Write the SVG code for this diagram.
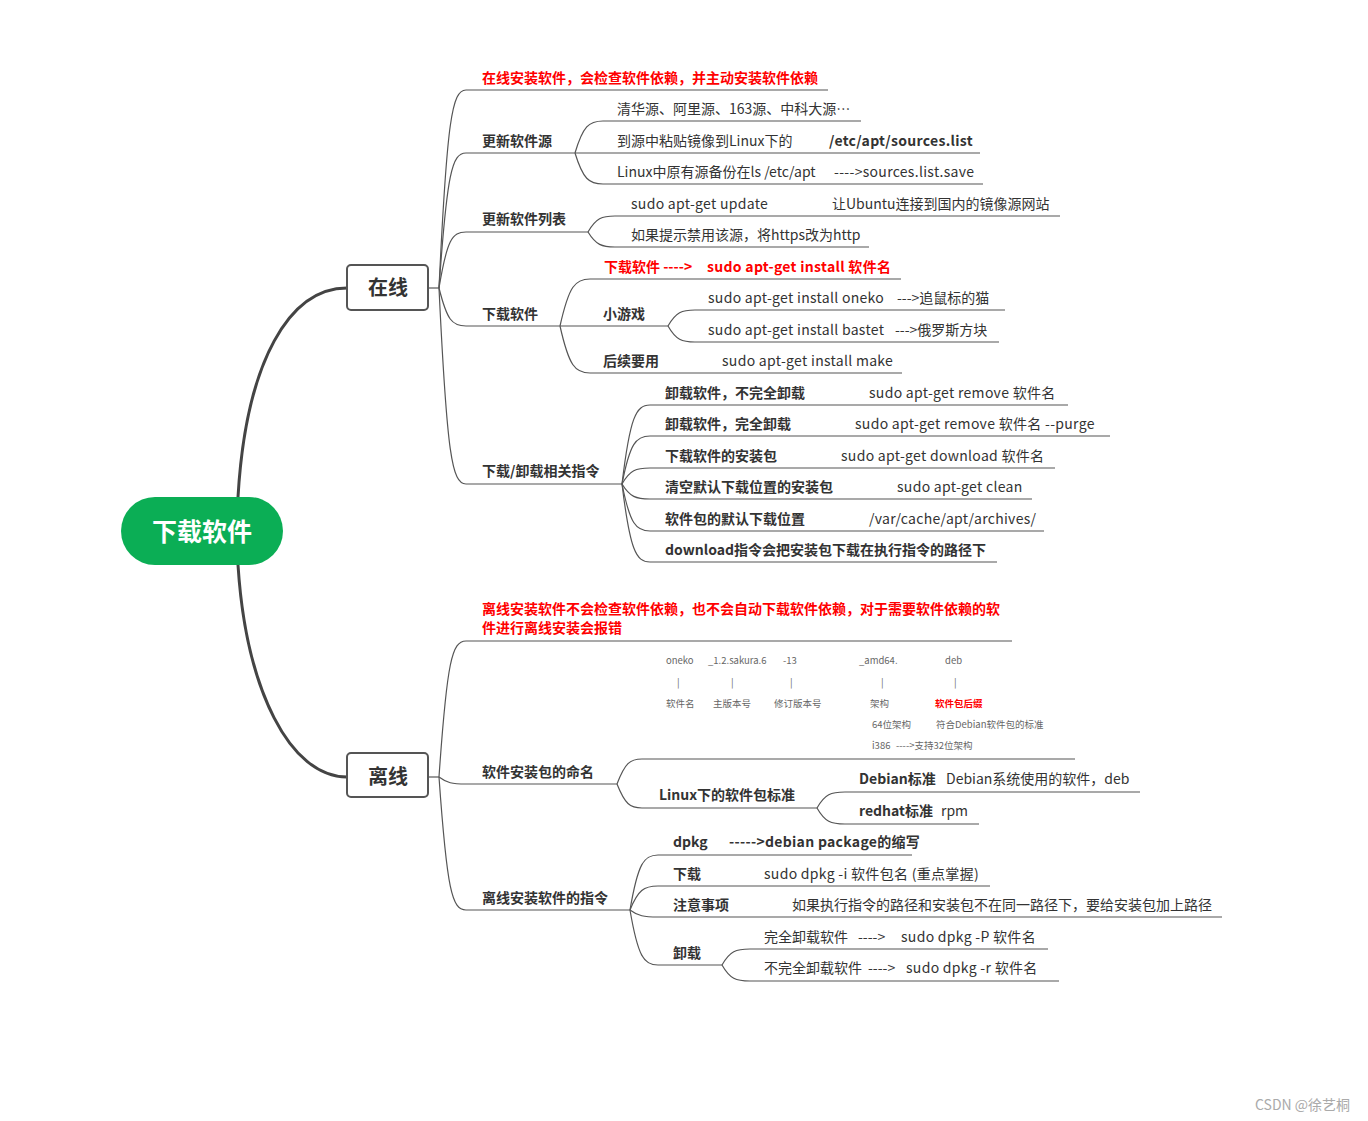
<svg xmlns="http://www.w3.org/2000/svg" width="1368" height="1121" viewBox="0 0 1368 1121">
<style>
text{font-family:"Noto Sans CJK SC","Noto Sans",sans-serif;font-size:14px;fill:#333}
.b{font-weight:700}
.r{fill:#f00;font-weight:700}
.l{letter-spacing:0.3px}
.s{font-size:9.5px;fill:#666}
.sr{font-size:9.5px;fill:#f00;font-weight:700}
.ln{fill:none;stroke:#555;stroke-width:1.2}
.main{fill:none;stroke:#444;stroke-width:3}
.box{fill:#fff;stroke:#555;stroke-width:2}
.wm{fill:#aaa;font-size:14px}
</style>
<rect width="1368" height="1121" fill="#fff"/>
<g id="connectors">
<path class="main" d="M238,497 C246,360 290,288 347,288"/>
<path class="main" d="M238,565 C246,690 290,777 347,777"/>
<path class="ln" d="M428,288 H439"/>
<path class="ln" d="M428,777 H439"/>
<path class="ln" d="M439,288 C447,120 452,90 466,90 H828"/>
<path class="ln" d="M439,288 C447,173 452,153 466,153 H575"/>
<path class="ln" d="M439,288 C447,240 452,232 466,232 H588"/>
<path class="ln" d="M439,288 C447,320 452,326 466,326 H560"/>
<path class="ln" d="M439,288 C447,455 452,484 466,484 H622"/>
<path class="ln" d="M575,153 C583,126 589,121 603,121 H861"/>
<path class="ln" d="M575,153 H980"/>
<path class="ln" d="M575,153 C583,179 589,184 603,184 H983"/>
<path class="ln" d="M588,232 C596,218 602,216 615,216 H1060"/>
<path class="ln" d="M588,232 C596,245 602,247 615,247 H869"/>
<path class="ln" d="M560,326 C569,286 575,279 590,279 H901"/>
<path class="ln" d="M560,326 H668"/>
<path class="ln" d="M560,326 C569,366 575,373 590,373 H902"/>
<path class="ln" d="M668,326 C676,312 682,310 695,310 H1005"/>
<path class="ln" d="M668,326 C676,340 682,342 695,342 H999"/>
<path class="ln" d="M622,484 C630,417 636,405 650,405 H1068"/>
<path class="ln" d="M622,484 C630,443 636,436 650,436 H1110"/>
<path class="ln" d="M622,484 C630,470 636,468 650,468 H1055"/>
<path class="ln" d="M622,484 C630,497 636,499 650,499 H1032"/>
<path class="ln" d="M622,484 C630,524 636,531 650,531 H1044"/>
<path class="ln" d="M622,484 C630,550 636,562 650,562 H997"/>
<path class="ln" d="M439,777 C447,661 452,641 466,641 H1012"/>
<path class="ln" d="M439,777 C447,783 452,784 466,784 H617"/>
<path class="ln" d="M439,777 C447,890 452,910 466,910 H630"/>
<path class="ln" d="M617,784 C625,763 630,759 642,759 H1075"/>
<path class="ln" d="M617,784 C625,804 630,808 642,808 H817"/>
<path class="ln" d="M817,808 C825,794 831,792 845,792 H1140"/>
<path class="ln" d="M817,808 C825,822 831,824 845,824 H979"/>
<path class="ln" d="M630,910 C638,863 644,855 658,855 H912"/>
<path class="ln" d="M630,910 C638,890 644,886 658,886 H990"/>
<path class="ln" d="M630,910 C638,916 644,917 658,917 H1222"/>
<path class="ln" d="M630,910 C638,957 644,965 658,965 H722"/>
<path class="ln" d="M722,965 C730,951 736,949 750,949 H1048"/>
<path class="ln" d="M722,965 C730,979 736,981 750,981 H1059"/>
</g>
<g id="root">
<rect x="121" y="497" width="162" height="68" rx="34" fill="#0BAE55"/>
<text x="202" y="541" text-anchor="middle" class="b" style="font-size:25px;fill:#fff">下载软件</text>
</g>
<g id="online">
<rect class="box" x="347" y="265" width="81" height="45" rx="4"/>
<text x="388" y="295" text-anchor="middle" class="b" style="font-size:20px">在线</text>
</g>
<g id="offline">
<rect class="box" x="347" y="753" width="81" height="44" rx="4"/>
<text x="388" y="784" text-anchor="middle" class="b" style="font-size:20px">离线</text>
</g>
<g id="online-note"><text x="482" y="83" class="r">在线安装软件，会检查软件依赖，并主动安装软件依赖</text></g>
<g id="update-source"><text x="482" y="146" class="b">更新软件源</text></g>
<g id="src-1"><text x="617" y="114">清华源、阿里源、163源、中科大源…</text></g>
<g id="src-2"><text x="617" y="146">到源中粘贴镜像到Linux下的</text><text x="829" y="146" class="b l">/etc/apt/sources.list</text></g>
<g id="src-3"><text x="617" y="177">Linux中原有源备份在ls /etc/apt</text><text x="834" y="177" class="l">----&gt;sources.list.save</text></g>
<g id="update-list"><text x="482" y="224" class="b">更新软件列表</text></g>
<g id="list-1"><text x="631" y="209" class="l">sudo apt-get update</text><text x="832" y="209">让Ubuntu连接到国内的镜像源网站</text></g>
<g id="list-2"><text x="631" y="240">如果提示禁用该源，将https改为http</text></g>
<g id="download"><text x="482" y="319" class="b">下载软件</text></g>
<g id="dl-note"><text x="604" y="272" class="r">下载软件 ----&gt;</text><text x="707" y="272" class="r l">sudo apt-get install 软件名</text></g>
<g id="games"><text x="603" y="319" class="b">小游戏</text></g>
<g id="game-1"><text x="708" y="303" class="l">sudo apt-get install oneko</text><text x="897" y="303">---&gt;追鼠标的猫</text></g>
<g id="game-2"><text x="708" y="335" class="l">sudo apt-get install bastet</text><text x="895" y="335">---&gt;俄罗斯方块</text></g>
<g id="later"><text x="603" y="366" class="b">后续要用</text><text x="722" y="366" class="l">sudo apt-get install make</text></g>
<g id="dl-cmds"><text x="482" y="476" class="b">下载/卸载相关指令</text></g>
<g id="cmd-1"><text x="665" y="398" class="b">卸载软件，不完全卸载</text><text x="869" y="398" class="l">sudo apt-get remove 软件名</text></g>
<g id="cmd-2"><text x="665" y="429" class="b">卸载软件，完全卸载</text><text x="855" y="429" class="l">sudo apt-get remove 软件名 --purge</text></g>
<g id="cmd-3"><text x="665" y="461" class="b">下载软件的安装包</text><text x="841" y="461" class="l">sudo apt-get download 软件名</text></g>
<g id="cmd-4"><text x="665" y="492" class="b">清空默认下载位置的安装包</text><text x="897" y="492" class="l">sudo apt-get clean</text></g>
<g id="cmd-5"><text x="665" y="524" class="b">软件包的默认下载位置</text><text x="869" y="524" class="l">/var/cache/apt/archives/</text></g>
<g id="cmd-6"><text x="665" y="555" class="b">download指令会把安装包下载在执行指令的路径下</text></g>
<g id="offline-note"><text x="482" y="614" class="r">离线安装软件不会检查软件依赖，也不会自动下载软件依赖，对于需要软件依赖的软</text><text x="482" y="633" class="r">件进行离线安装会报错</text></g>
<g id="naming"><text x="482" y="777" class="b">软件安装包的命名</text></g>
<g id="naming-example">
<text x="666" y="664" class="s">oneko</text><text x="708" y="664" class="s">_1.2.sakura.6</text><text x="783" y="664" class="s">-13</text><text x="859" y="664" class="s">_amd64.</text><text x="945" y="664" class="s">deb</text>
<text x="677" y="686" class="s">|</text><text x="731" y="686" class="s">|</text><text x="790" y="686" class="s">|</text><text x="881" y="686" class="s">|</text><text x="954" y="686" class="s">|</text>
<text x="666" y="707" class="s">软件名</text><text x="713" y="707" class="s">主版本号</text><text x="774" y="707" class="s">修订版本号</text><text x="870" y="707" class="s">架构</text><text x="935" y="707" class="sr">软件包后缀</text>
<text x="872" y="728" class="s">64位架构</text><text x="936" y="728" class="s">符合Debian软件包的标准</text>
<text x="872" y="749" class="s">i386</text><text x="896" y="749" class="s">----&gt;支持32位架构</text>
</g>
<g id="pkg-std"><text x="659" y="800" class="b">Linux下的软件包标准</text></g>
<g id="std-debian"><text x="859" y="784" class="b">Debian标准</text><text x="946" y="784">Debian系统使用的软件，deb</text></g>
<g id="std-redhat"><text x="859" y="816" class="b">redhat标准</text><text x="941" y="816">rpm</text></g>
<g id="offline-cmds"><text x="482" y="903" class="b">离线安装软件的指令</text></g>
<g id="dpkg"><text x="673" y="847" class="b">dpkg</text><text x="729" y="847" class="b l">-----&gt;debian package的缩写</text></g>
<g id="dpkg-install"><text x="673" y="879" class="b">下载</text><text x="764" y="879" class="l">sudo dpkg -i 软件包名 (重点掌握)</text></g>
<g id="dpkg-note"><text x="673" y="910" class="b">注意事项</text><text x="792" y="910">如果执行指令的路径和安装包不在同一路径下，要给安装包加上路径</text></g>
<g id="dpkg-remove"><text x="673" y="958" class="b">卸载</text></g>
<g id="remove-1"><text x="764" y="942">完全卸载软件</text><text x="858" y="942">----&gt;</text><text x="901" y="942" class="l">sudo dpkg -P 软件名</text></g>
<g id="remove-2"><text x="764" y="973">不完全卸载软件</text><text x="868" y="973">----&gt;</text><text x="906" y="973" class="l">sudo dpkg -r 软件名</text></g>
<text x="1255" y="1110" class="wm">CSDN @徐艺桐</text>
</svg>
